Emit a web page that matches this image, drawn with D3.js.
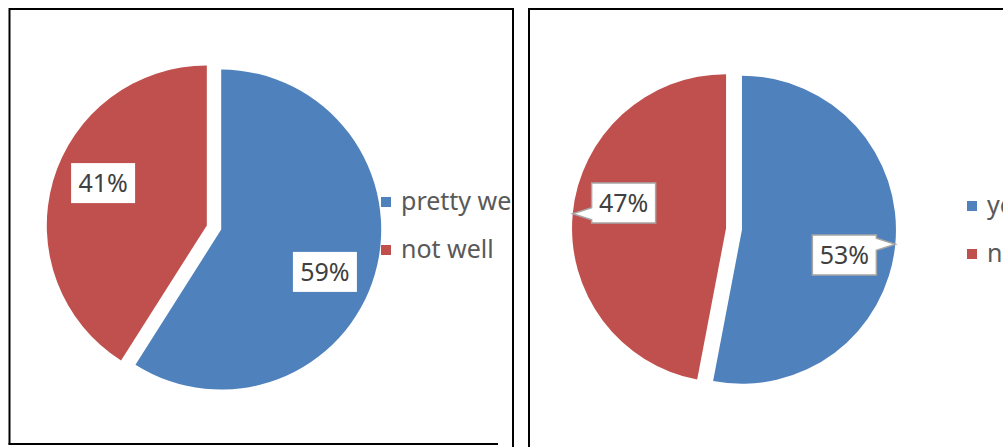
<!DOCTYPE html>
<html>
<head>
<meta charset="utf-8">
<script src="https://cdn.jsdelivr.net/npm/d3@7"></script>
<style>
  body { margin: 0; background: #fff; }
  svg { display: block; }
</style>
</head>
<body>
<script>
(function() {
  var leftCategories = ["pretty well", "not well"];
  var leftValues = [59, 41];
  var rightCategories = ["yes", "no"];
  var rightValues = [53, 47];
  var colors = ["#4F81BD", "#C0504D"];

  var width = 1003, height = 447;

  var svg = d3.select("body").append("svg")
    .attr("width", width)
    .attr("height", height);

  // frame lines of the two chart boxes (cropped screenshot look)
  var frames = [
    [9, 9, 514, 9], [9.5, 8, 9.5, 444.5], [8.5, 444, 498, 444], [513, 8, 513, 447],
    [529, 8, 529, 447], [528, 9, 1003, 9]
  ];
  svg.selectAll("line.frame").data(frames).enter().append("line")
    .attr("class", "frame")
    .attr("x1", function(d) { return d[0]; })
    .attr("y1", function(d) { return d[1]; })
    .attr("x2", function(d) { return d[2]; })
    .attr("y2", function(d) { return d[3]; })
    .style("stroke", "#000")
    .style("stroke-width", 2);

  svg.append("clipPath").attr("id", "clipLeft")
    .append("rect").attr("x", 10).attr("y", 10).attr("width", 502).attr("height", 433);

  var charts = [
    { cats: leftCategories, vals: leftValues, cx: 214, cy: 227.5, r: 160, explode: 7.5,
      labelTurn: 6, labelR: 0.7, callout: false, legendX: 381, legendY: 202, clip: "url(#clipLeft)" },
    { cats: rightCategories, vals: rightValues, cx: 734, cy: 229, r: 154, explode: 8,
      labelTurn: 8.5, labelR: 0.685, callout: true, legendX: 967, legendY: 206, clip: null }
  ];

  var pie = d3.pie().sort(null).value(function(d) { return d; });

  function calloutPath(x0, y0, x1, y1, tx, ty) {
    var b = Math.max(y0 + 6, Math.min(y1 - 6, ty));
    if (tx < x0) {
      return "M" + x0 + "," + y0 + "H" + x1 + "V" + y1 + "H" + x0 + "V" + (b + 6) +
        "L" + tx + "," + ty + "L" + x0 + "," + (b - 6) + "Z";
    }
    return "M" + x0 + "," + y0 + "H" + x1 + "V" + (b - 6) + "L" + tx + "," + ty +
      "L" + x1 + "," + (b + 6) + "V" + y1 + "H" + x0 + "Z";
  }

  charts.forEach(function(c) {
    var g = svg.append("g").attr("clip-path", c.clip);
    var total = d3.sum(c.vals);
    var arcs = pie(c.vals);
    var arc = d3.arc().innerRadius(0).outerRadius(c.r);

    var slices = g.selectAll("g.slice").data(arcs).enter().append("g")
      .attr("class", "slice")
      .attr("transform", function(d) {
        var m = (d.startAngle + d.endAngle) / 2;
        return "translate(" + (c.cx + c.explode * Math.sin(m)) + "," + (c.cy - c.explode * Math.cos(m)) + ")";
      });

    slices.append("path")
      .attr("d", arc)
      .style("fill", function(d, i) { return colors[i]; });

    // data labels
    slices.each(function(d) {
      var s = d3.select(this);
      var m = (d.startAngle + d.endAngle) / 2;
      var a = m + c.labelTurn * Math.PI / 180;
      var lx = c.labelR * c.r * Math.sin(a), ly = -c.labelR * c.r * Math.cos(a);
      var bw = 64, bh = 40;
      var x0 = lx - bw / 2, y0 = ly - bh / 2;
      if (c.callout) {
        var tx = c.r * Math.sin(m), ty = -c.r * Math.cos(m);
        s.append("path")
          .attr("d", calloutPath(x0, y0, x0 + bw, y0 + bh, tx, ty))
          .style("fill", "#fff")
          .style("stroke", "#a6a6a6")
          .style("stroke-width", 1.5);
      } else {
        s.append("rect")
          .attr("x", x0).attr("y", y0).attr("width", bw).attr("height", bh)
          .style("fill", "#fff");
      }
      s.append("text")
        .attr("x", lx).attr("y", ly + 9)
        .text(Math.round(d.value / total * 100) + "%")
        .style("fill", "#404040")
        .style("font-family", "'Noto Sans', sans-serif")
        .style("font-size", "25px")
        .style("text-anchor", "middle");
    });

    // legend
    var leg = g.selectAll("g.legend").data(c.cats).enter().append("g")
      .attr("class", "legend")
      .attr("transform", function(d, i) { return "translate(" + c.legendX + "," + (c.legendY + i * 48) + ")"; });
    leg.append("rect")
      .attr("x", 0).attr("y", -5).attr("width", 10).attr("height", 10)
      .style("fill", function(d, i) { return colors[i]; });
    leg.append("text")
      .attr("x", 20).attr("y", 8)
      .text(function(d) { return d; })
      .style("fill", "#595959")
      .style("font-family", "'Noto Sans', sans-serif")
      .style("font-size", "25px");
  });
})();
</script>
</body>
</html>
